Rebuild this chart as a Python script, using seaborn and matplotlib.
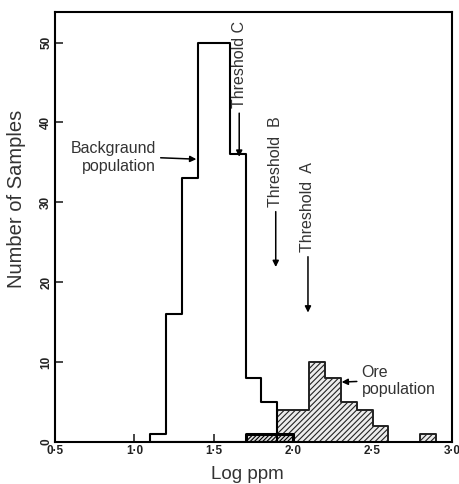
import matplotlib
matplotlib.use("Agg")
import matplotlib.pyplot as plt
import numpy as np
import pandas as pd
import seaborn as sns

# bins are 0.1 log-ppm wide, values are left edges
background_bins = [1.1, 1.2, 1.3, 1.4, 1.5, 1.6, 1.7, 1.8]
background_counts = [1, 16, 33, 50, 50, 36, 8, 5]

ore_bins = [1.9, 2.0, 2.1, 2.2, 2.3, 2.4, 2.5, 2.6, 2.7, 2.8]
ore_counts = [4, 4, 10, 8, 5, 4, 2, 0, 0, 1]

low_bins = [1.7, 1.8, 1.9]
low_counts = [1, 1, 1]

x_ticks = [0.5, 1.0, 1.5, 2.0, 2.5, 3.0]
x_tick_labels = ["0·5", "1·0", "1·5", "2·0", "2·5", "3·0"]
y_ticks = [0, 10, 20, 30, 40, 50]

BIN_W = 0.1


def frame(lefts, counts):
    return pd.DataFrame({"log_ppm": np.round(np.asarray(lefts) + BIN_W / 2, 3),
                         "count": counts})


def edges(lefts):
    return [round(v, 2) for v in list(lefts) + [lefts[-1] + BIN_W]]


def main() -> None:
    sns.set_theme(style="white")
    plt.rcParams["font.family"] = ["Liberation Sans", "DejaVu Sans"]
    plt.rcParams["hatch.linewidth"] = 0.8

    fig = plt.figure(figsize=(4.6, 4.84), dpi=100)
    ax = fig.add_axes([0.1196, 0.0868, 0.863, 0.888])

    sns.histplot(data=frame(ore_bins, ore_counts), x="log_ppm", weights="count",
                 bins=edges(ore_bins), element="step", fill=True, color="black",
                 facecolor="#ececec", edgecolor="#222222", hatch="//////",
                 linewidth=1.4, alpha=1, ax=ax)
    sns.histplot(data=frame(low_bins, low_counts), x="log_ppm", weights="count",
                 bins=edges(low_bins), element="step", fill=True, color="black",
                 facecolor="#dddddd", edgecolor="black", hatch="////////",
                 linewidth=2.2, alpha=1, ax=ax)
    sns.histplot(data=frame(background_bins, background_counts), x="log_ppm",
                 weights="count", bins=edges(background_bins), element="step",
                 fill=True, color="black", facecolor="none", edgecolor="black",
                 linewidth=1.5, alpha=1, ax=ax)

    ax.set_xlim(0.5, 3.0)
    ax.set_ylim(0, 53.8)
    ax.set_xticks(x_ticks)
    ax.set_xticklabels(x_tick_labels, fontsize=8.5, fontweight="bold", color="#222222")
    ax.set_yticks(y_ticks)
    ax.set_yticklabels([str(v) for v in y_ticks], fontsize=8.5, fontweight="bold",
                       color="#222222", rotation=90, va="center")
    ax.tick_params(axis="both", direction="in", length=6, width=1.2, pad=2,
                   bottom=True, left=True, top=False, right=False)
    for side in ax.spines.values():
        side.set_color("black")
        side.set_linewidth(1.5)

    ax.set_xlabel("Log ppm", fontsize=13.5, color="#333333", labelpad=2)
    ax.set_ylabel("Number of Samples", fontsize=14.5, color="#333333")
    ax.xaxis.set_label_coords(0.485, -0.055)
    ax.yaxis.set_label_coords(-0.072, 0.565)

    arrow = dict(arrowstyle="-|>", color="black", lw=1.1, mutation_scale=9,
                 shrinkA=1, shrinkB=0)
    txt = dict(fontsize=11.5, color="#333333")

    ax.annotate("Backgraund\npopulation", xy=(1.39, 35.4), xytext=(1.136, 35.6),
                ha="right", va="center", multialignment="right",
                arrowprops=dict(arrow, relpos=(1, 0.5)), **txt)
    ax.annotate("Ore\npopulation", xy=(2.305, 7.5), xytext=(2.43, 7.6),
                ha="left", va="center", multialignment="left",
                arrowprops=dict(arrow, relpos=(0, 0.5)), **txt)
    ax.annotate("Threshold C", xy=(1.66, 35.7), xytext=(1.66, 47.2),
                ha="center", va="center", rotation=90,
                arrowprops=dict(arrow, relpos=(0.5, 0)), **txt)
    ax.annotate("Threshold  B", xy=(1.89, 21.9), xytext=(1.89, 35.1),
                ha="center", va="center", rotation=90,
                arrowprops=dict(arrow, relpos=(0.5, 0)), **txt)
    ax.annotate("Threshold  A", xy=(2.093, 16.2), xytext=(2.093, 29.4),
                ha="center", va="center", rotation=90,
                arrowprops=dict(arrow, relpos=(0.5, 0)), **txt)

    fig.savefig("out.png", dpi=100)
    plt.close(fig)


if __name__ == "__main__":
    main()
